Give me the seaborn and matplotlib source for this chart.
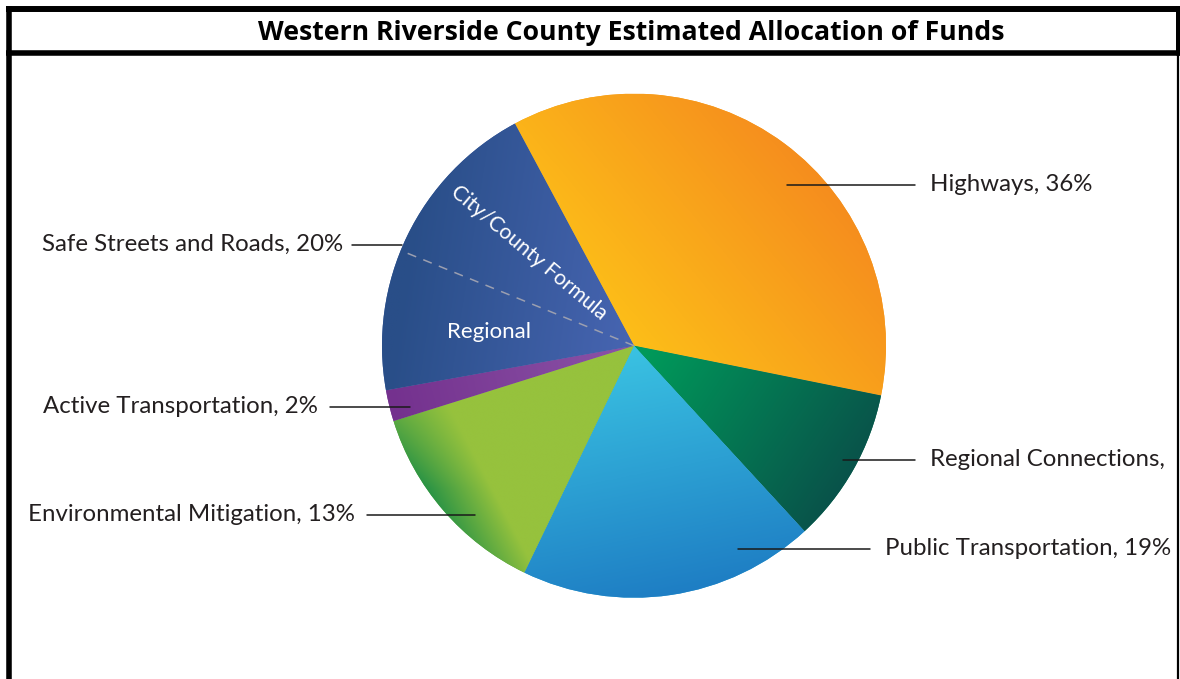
import numpy as np
import matplotlib
matplotlib.use("Agg")
import matplotlib.pyplot as plt
import seaborn as sns

# ---- data -------------------------------------------------------------
categories = ["Highways", "Regional Connections", "Public Transportation",
              "Environmental Mitigation", "Active Transportation",
              "Safe Streets and Roads"]
shares = [36, 10, 19, 13, 2, 20]
labels = ["Highways, 36%", "Regional Connections,", "Public Transportation, 19%",
          "Environmental Mitigation, 13%", "Active Transportation, 2%",
          "Safe Streets and Roads, 20%"]
safe_parts = ["City/County Formula", "Regional"]
safe_split = [11, 9]
title = "Western Riverside County Estimated Allocation of Funds"

# ---- styling ----------------------------------------------------------
W, H = 1180, 679
CX, CY, R = 634, H - 345.7, 252
START = 118.2

# linear gradient per slice: (point0, colour0, point1, colour1) in pixel space
gradients = {
    "Highways": ((600, 330), "#FDC118", (850, 120), "#F4821F"),
    "Regional Connections": ((650, 350), "#00995A", (870, 500), "#0A4A48"),
    "Public Transportation": ((620, 350), "#3AC2E2", (670, 595), "#1E7EC4"),
    "Environmental Mitigation": ((455, 418), "#96C23D", (398, 448), "#1E8E46"),
    "Active Transportation": ((390, 400), "#74318E", (620, 345), "#8A52A6"),
    "Safe Streets and Roads": ((400, 300), "#294E88", (625, 335), "#4664B0"),
}
# the mitigation shading deepens toward the lower rim (y0, span, base)
deepen = {"Environmental Mitigation": (420, 170, 0.6)}

# label layout: text x, line y, line start, line end, alignment
label_layout = [
    (930, 185, 787, 915, "left"),
    (930, 460, 843, 915, "left"),
    (885, 549, 738, 870, "left"),
    (355, 515, 475, 367, "right"),
    (318, 407, 410, 330, "right"),
    (343, 245, 402, 352, "right"),
]

sns.set_theme(style="white")
plt.rcParams["font.family"] = ["Lato", "DejaVu Sans"]
TEXT = "#231F20"

fig = plt.figure(figsize=(W / 100, H / 100), dpi=100)
ax = fig.add_axes([0, 0, 1, 1])

wedges, _ = ax.pie(shares, startangle=START, counterclock=False, radius=R,
                   center=(CX, CY), wedgeprops=dict(linewidth=0))
ax.set_xlim(0, W)
ax.set_ylim(0, H)
ax.set_aspect("equal")
ax.axis("off")


def py(y):
    return H - y


# gradient fills clipped to each wedge
n = 600
gx = np.linspace(CX - R, CX + R, n)
gy = np.linspace(CY - R, CY + R, n)
XX, YY = np.meshgrid(gx, gy)
for cat, wedge in zip(categories, wedges):
    (x0, y0), c0, (x1, y1), c1 = gradients[cat]
    y0, y1 = py(y0), py(y1)
    d = np.array([x1 - x0, y1 - y0])
    t = ((XX - x0) * d[0] + (YY - y0) * d[1]) / (d @ d)
    t = np.clip(t, 0, 1)
    if cat in deepen:
        ys, span, base = deepen[cat]
        t = t * np.clip(base + (py(YY) - ys) / span, 0, 1)
    cmap = sns.blend_palette([c0, c1], n_colors=256, as_cmap=True)
    im = ax.imshow(t, cmap=cmap, vmin=0, vmax=1, origin="lower",
                   extent=(CX - R, CX + R, CY - R, CY + R),
                   interpolation="bilinear", zorder=2)
    im.set_clip_path(wedge)
    wedge.set_facecolor(cmap(0.5))
    wedge.set_zorder(1)

# Safe Streets split between City/County Formula and Regional
theta_split = START + 360 * safe_split[0] / 100
ts = np.deg2rad(theta_split)
ax.plot([CX, CX + R * np.cos(ts)], [CY, CY + R * np.sin(ts)],
        color="#9B9FB0", lw=1.1, dashes=(6, 5), zorder=3)

mid_cc = np.deg2rad(START + 360 * safe_split[0] / 200)
rc = 0.58 * R
ax.text(CX + rc * np.cos(mid_cc) + 4, CY + rc * np.sin(mid_cc) - 5, safe_parts[0],
        rotation=np.rad2deg(mid_cc) - 178, rotation_mode="anchor",
        ha="center", va="center", color="white", fontsize=15.2, zorder=4)
ax.text(489, py(332), safe_parts[1], ha="center", va="center",
        color="white", fontsize=16, zorder=4)

# outside labels with leader lines
for text, (tx, ly, lx0, lx1, ha) in zip(labels, label_layout):
    ax.plot([lx0, lx1], [py(ly), py(ly)], color="#1A1A1A", lw=1.1, zorder=5)
    ax.text(tx, py(ly + 6), text, ha=ha, va="baseline",
            fontsize=17.3, color=TEXT, zorder=5)

# title box
ax.text(631, py(40), title, ha="center", va="baseline", fontsize=19.2,
        fontweight="bold", color="black", family=["Open Sans", "DejaVu Sans"],
        zorder=6)
k = dict(color="black", solid_capstyle="butt", zorder=6)
ax.plot([6, 1180], [py(9), py(9)], lw=4.3, **k)
ax.plot([6, 1180], [py(52.5), py(52.5)], lw=4.0, **k)
ax.plot([8.5, 8.5], [py(6), 0], lw=4.0, **k)
ax.plot([1177.5, 1177.5], [py(6), py(55)], lw=3.6, **k)
ax.plot([1177.5, 1177.5], [py(55), 0], lw=1.6, **k)

fig.savefig("out.png", dpi=100)
